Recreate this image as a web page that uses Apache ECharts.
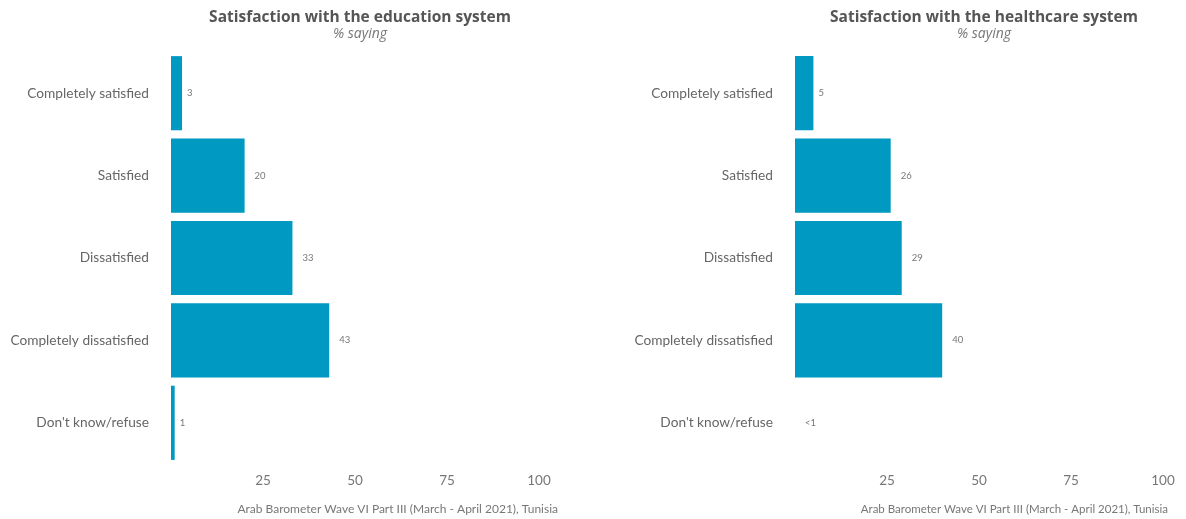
<!DOCTYPE html>
<html>
<head>
<meta charset="utf-8">
<script src="https://cdn.jsdelivr.net/npm/echarts@6/dist/echarts.min.js"></script>
<style>html,body{margin:0;padding:0;background:#fff;}#c{width:1186px;height:519px;}</style>
</head>
<body>
<div id="c"></div>
<script>
const categories = ["Completely satisfied", "Satisfied", "Dissatisfied", "Completely dissatisfied", "Don't know/refuse"];
const educationValues = [3, 20, 33, 43, 1];
const educationLabels = ["3", "20", "33", "43", "1"];
const healthcareValues = [5, 26, 29, 40, 0];
const healthcareLabels = ["5", "26", "29", "40", "<1"];
const xTicks = [0, 25, 50, 75, 100];
const titles = ["Satisfaction with the education system", "Satisfaction with the healthcare system"];
const subtitle = "% saying";
const source = "Arab Barometer Wave VI Part III (March - April 2021), Tunisia";

const FONT = "Lato, 'Open Sans', sans-serif";
const BAR = '#0099c2';
const chart = echarts.init(document.getElementById('c'));
const grids = [{left: 171, top: 52, width: 368, height: 412}, {left: 795, top: 52, width: 368, height: 412}];
function xAxis(i) {
  return {type: 'value', gridIndex: i, min: xTicks[0], max: xTicks[xTicks.length-1], interval: 25,
    splitLine: {show: false}, axisLine: {show: false}, axisTick: {show: false},
    axisLabel: {showMinLabel: false, color: '#777', fontSize: 13.5, fontFamily: FONT, margin: 10}};
}
function yAxis(i) {
  return {type: 'category', gridIndex: i, data: categories, inverse: true,
    axisLine: {show: false}, axisTick: {show: false},
    axisLabel: {color: '#666', fontSize: 13.7, fontFamily: FONT, margin: 22}};
}
function series(i, vals, labels) {
  return {type: 'bar', xAxisIndex: i, yAxisIndex: i, barCategoryGap: '10%',
    data: vals.map((v, k) => ({value: v, label: {distance: labels[k].length > 1 ? 10 : 5}})),
    itemStyle: {color: BAR}, silent: true,
    label: {show: true, position: 'right', color: '#777', fontSize: 9.5, fontFamily: FONT,
      formatter: p => labels[p.dataIndex]}};
}
chart.setOption({
  animation: false,
  grid: grids,
  title: [0, 1].map(i => ({text: titles[i], subtext: subtitle, left: grids[i].left + grids[i].width/2, textAlign: 'center', top: 5,
    itemGap: 1,
    textStyle: {fontFamily: "'Open Sans', sans-serif", fontWeight: 'bold', fontSize: 15.5, color: '#555'},
    subtextStyle: {fontFamily: "'Open Sans', sans-serif", fontStyle: 'italic', fontSize: 14, color: '#777'}})),
  xAxis: [xAxis(0), xAxis(1)],
  yAxis: [yAxis(0), yAxis(1)],
  series: [series(0, educationValues, educationLabels), series(1, healthcareValues, healthcareLabels)],
  graphic: [[558, 12], [1168, 11.5]].map(([x, fs]) => ({type: 'text', right: 1186 - x, top: 503,
    style: {text: source, fill: '#777', fontSize: fs, fontFamily: FONT}}))
});
</script>
</body>
</html>
